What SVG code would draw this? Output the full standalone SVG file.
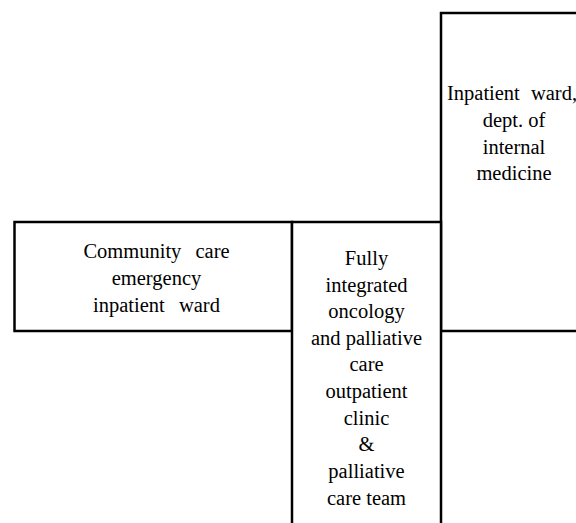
<svg xmlns="http://www.w3.org/2000/svg" width="576" height="523" viewBox="0 0 576 523">
  <style>
    .box { fill: #ffffff; stroke: #000000; stroke-width: 2.5; }
    .lbl { font-family: 'Liberation Serif', 'Times New Roman', serif; font-size: 20.5px; fill: #000000; text-anchor: middle; }
    .ws { word-spacing: 9px; }
  </style>
  <rect x="0" y="0" width="576" height="523" fill="#ffffff"/>
  <g id="connectors"></g>
  <g id="node-inpatient-internal">
    <rect class="box" x="441" y="13" width="148" height="318"/>
    <text class="lbl" x="512" y="99.5" word-spacing="6">Inpatient ward,</text>
    <text class="lbl" x="514" y="126.5">dept. of</text>
    <text class="lbl" x="514" y="153.5">internal</text>
    <text class="lbl" x="514" y="180">medicine</text>
  </g>
  <g id="node-community">
    <rect class="box" x="14.5" y="222" width="277.5" height="109"/>
    <text class="lbl ws" x="156.5" y="258">Community care</text>
    <text class="lbl" x="156.5" y="285">emergency</text>
    <text class="lbl ws" x="156.5" y="312">inpatient ward</text>
  </g>
  <g id="node-integrated">
    <rect class="box" x="292" y="222" width="149" height="320"/>
    <text class="lbl" x="366.5" y="265">Fully</text>
    <text class="lbl" x="366.5" y="291.6">integrated</text>
    <text class="lbl" x="366.5" y="318.2">oncology</text>
    <text class="lbl" x="366.5" y="344.8">and palliative</text>
    <text class="lbl" x="366.5" y="371.4">care</text>
    <text class="lbl" x="366.5" y="398">outpatient</text>
    <text class="lbl" x="366.5" y="424.6">clinic</text>
    <text class="lbl" x="366.5" y="451.2">&amp;</text>
    <text class="lbl" x="366.5" y="478">palliative</text>
    <text class="lbl" x="366.5" y="505">care team</text>
  </g>
</svg>
